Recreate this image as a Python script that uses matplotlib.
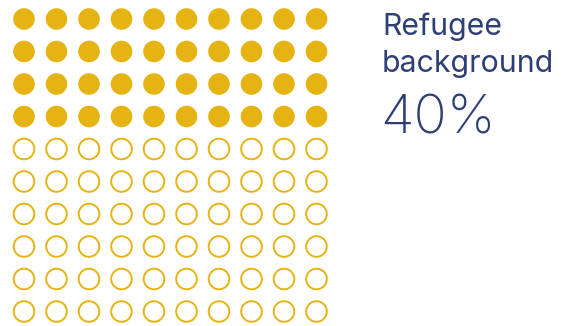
import matplotlib.pyplot as plt
from matplotlib.patches import Circle

# waffle: share of people with a refugee background
label = "Refugee background"
share = 40          # percent
n_cols = 10
n_rows = 10

yellow = "#E6B412"
navy = "#2E3F75"

fig = plt.figure(figsize=(5.69, 3.26), dpi=100)
ax = fig.add_axes([0, 0, 1, 1])
ax.set_xlim(0, 569)
ax.set_ylim(326, 0)
ax.set_aspect("equal")
ax.axis("off")

x0, y0, step = 24, 19, 32.5
for i in range(n_rows * n_cols):
    r, c = divmod(i, n_cols)
    cx, cy = x0 + c * step, y0 + r * step
    if i < share:
        ax.add_patch(Circle((cx, cy), 10.8, facecolor=yellow, edgecolor="none"))
    else:
        ax.add_patch(Circle((cx, cy), 10.3, facecolor="none", edgecolor=yellow, lw=1.4))

words = label.split(" ")
ax.text(382, 35, words[0], fontsize=21.8, color=navy, family="Inter", va="baseline")
ax.text(382, 72, words[1], fontsize=21.8, color=navy, family="Inter", va="baseline")
ax.text(380, 133, f"{share}%", fontsize=39.5, color=navy, family="Inter",
        fontweight="light", va="baseline")

fig.savefig("out.png", dpi=100)
